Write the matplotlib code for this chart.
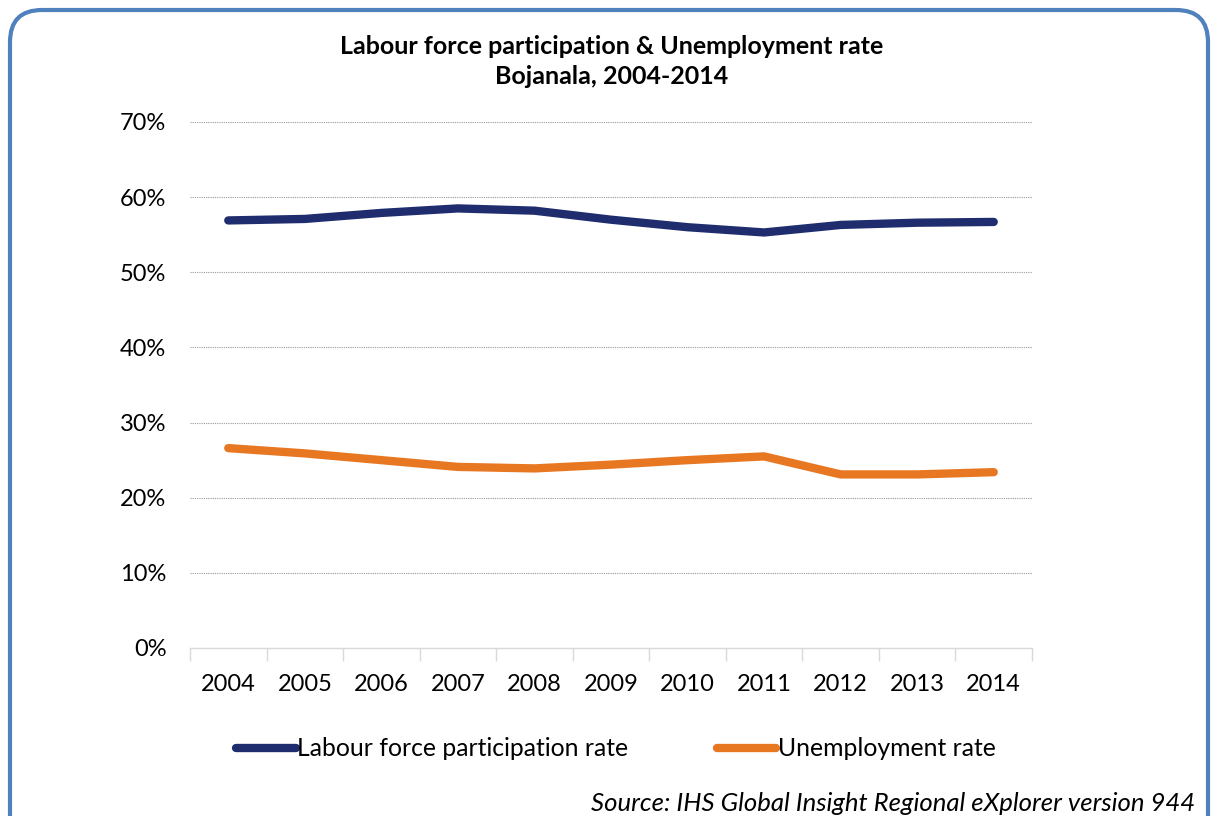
import matplotlib.pyplot as plt
from matplotlib.patches import FancyBboxPatch
from matplotlib.ticker import FixedLocator

years = ["2004", "2005", "2006", "2007", "2008", "2009", "2010", "2011", "2012", "2013", "2014"]
labour_force = [56.9, 57.1, 57.9, 58.5, 58.2, 57.0, 56.0, 55.3, 56.3, 56.6, 56.7]
unemployment = [26.6, 25.9, 25.0, 24.1, 23.9, 24.4, 25.0, 25.5, 23.1, 23.1, 23.4]
y_ticks = [0, 10, 20, 30, 40, 50, 60, 70]

navy = "#1F2D6E"
orange = "#E87722"

plt.rcParams["font.family"] = ["Lato", "DejaVu Sans"]

fig = plt.figure(figsize=(12.12, 8.16), dpi=100)
W, H = 1212, 816
ax = fig.add_axes([190 / W, (H - 648) / H, 842 / W, 526 / H])

x = range(len(years))
ax.plot(x, labour_force, color=navy, lw=6, solid_capstyle="round",
        solid_joinstyle="round", label="Labour force participation rate")
ax.plot(x, unemployment, color=orange, lw=6, solid_capstyle="round",
        solid_joinstyle="round", label="Unemployment rate")

ax.set_xlim(-0.5, len(years) - 0.5)
ax.set_ylim(0, 70)
ax.set_yticks(y_ticks)
ax.set_yticklabels([f"{v}%" for v in y_ticks])
ax.set_xticks(list(x))
ax.set_xticklabels(years)
ax.xaxis.set_minor_locator(FixedLocator([i - 0.5 for i in range(len(years) + 1)]))
ax.tick_params(axis="x", which="major", length=0, pad=19, labelsize=17)
ax.tick_params(axis="x", which="minor", length=9, color="#D9D9D9", width=1)
ax.tick_params(axis="y", length=0, pad=17, labelsize=17)

for s in ["top", "right", "left"]:
    ax.spines[s].set_visible(False)
ax.spines["bottom"].set_color("#D9D9D9")
ax.spines["bottom"].set_linewidth(1)

for v in y_ticks[1:]:
    ax.axhline(v, color="#9A9A9A", lw=0.8, ls=(0, (1, 1)), zorder=0)

fig.text(612 / W, (H - 46) / H, "Labour force participation & Unemployment rate",
         ha="center", va="center", fontsize=18, fontweight="bold")
fig.text(612 / W, (H - 76) / H, "Bojanala, 2004-2014",
         ha="center", va="center", fontsize=18, fontweight="bold")

fig.legend(loc="center", bbox_to_anchor=(616 / W, (H - 749) / H), ncol=2,
           frameon=False, fontsize=17.8, handlelength=2.4, handletextpad=0.05,
           columnspacing=3.6)

fig.text(1195 / W, (H - 792) / H, "Source: IHS Global Insight Regional eXplorer version 944",
         ha="right", va="top", fontsize=18.5, fontstyle="italic")

# rounded frame around the whole chart
frame = FancyBboxPatch((0.10, -0.5), 11.98, 8.56,
                       boxstyle="round,pad=0,rounding_size=0.32",
                       transform=fig.dpi_scale_trans, fill=False,
                       edgecolor="#4F81BD", linewidth=3)
fig.add_artist(frame)

fig.savefig("out.png", dpi=100)
